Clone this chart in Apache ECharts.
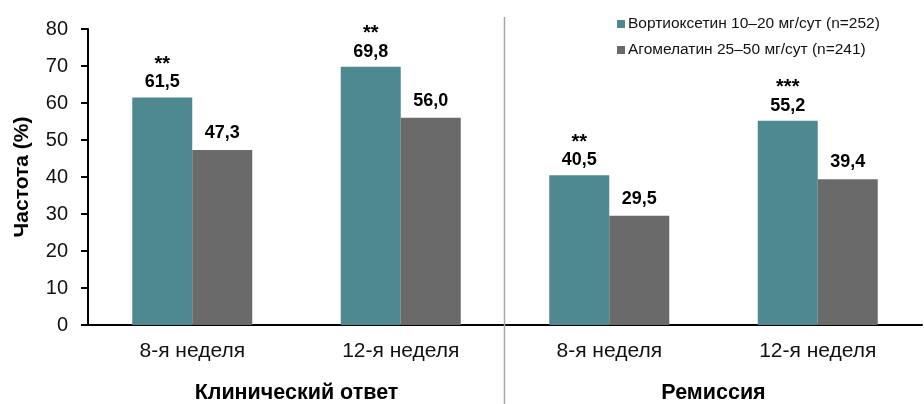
<!DOCTYPE html>
<html>
<head>
<meta charset="utf-8">
<script src="https://cdn.jsdelivr.net/npm/echarts@6/dist/echarts.min.js"></script>
<style>
  html, body { margin: 0; padding: 0; background: #fff; }
  #chart { width: 924px; height: 404px; }
</style>
</head>
<body>
<div id="chart"></div>
<script>
// Weeks within each outcome group
const categories = ['8-я неделя', '12-я неделя', '8-я неделя', '12-я неделя'];
const groups = ['Клинический ответ', 'Ремиссия'];

const seriesNames = ['Вортиоксетин 10–20 мг/сут (n=252)', 'Агомелатин 25–50 мг/сут (n=241)'];
const vortioxetine = [61.5, 69.8, 40.5, 55.2];
const agomelatine = [47.3, 56.0, 29.5, 39.4];
// Significance marks over the vortioxetine bars
const vortioxetineStars = ['**', '**', '**', '***'];

const yTicks = { min: 0, max: 80, interval: 10 };

const FONT = 'Liberation Sans, Arial, sans-serif';
const TEAL = '#4e8891';
const GREY = '#6a6a6a';

const fmt = v => v.toFixed(1).replace('.', ',');

const chart = echarts.init(document.getElementById('chart'));

chart.setOption({
  animation: false,
  textStyle: { fontFamily: FONT },
  grid: { left: 88, right: 2, top: 29, bottom: 79, containLabel: false },
  legend: {
    orient: 'vertical',
    left: 612,
    top: 10,
    itemWidth: 8,
    itemHeight: 8,
    itemGap: 8,
    icon: 'rect',
    textStyle: { fontFamily: FONT, fontSize: 15.5, color: '#111', lineHeight: 18, padding: [0, 0, 0, -2] },
    data: seriesNames
  },
  xAxis: [
    {
      type: 'category',
      data: categories,
      axisLine: { lineStyle: { color: '#000', width: 2 } },
      axisTick: { length: 6, lineStyle: { color: '#000', width: 2 } },
      axisLabel: { fontSize: 21, color: '#111', margin: 16 }
    },
    {
      type: 'category',
      data: groups,
      position: 'bottom',
      offset: 57,
      axisLine: { show: false },
      axisTick: { show: false },
      axisLabel: { fontSize: 21.5, fontWeight: 'bold', color: '#000', margin: 0 }
    }
  ],
  yAxis: {
    type: 'value',
    min: yTicks.min,
    max: yTicks.max,
    interval: yTicks.interval,
    name: 'Частота (%)',
    nameLocation: 'middle',
    nameGap: 55,
    nameTextStyle: { fontSize: 21, fontWeight: 'bold', color: '#000', fontFamily: FONT },
    axisLine: { show: true, lineStyle: { color: '#000', width: 2 } },
    axisTick: { show: true, length: 7, lineStyle: { color: '#000', width: 2 } },
    axisLabel: { fontSize: 20, color: '#111', margin: 20 },
    splitLine: { show: false }
  },
  series: [
    {
      name: seriesNames[0],
      type: 'bar',
      xAxisIndex: 0,
      barWidth: 60,
      barGap: '0%',
      itemStyle: { color: TEAL },
      data: vortioxetine.map((v, i) => ({
        value: v,
        label: {
          show: true,
          position: 'top',
          distance: 4,
          formatter: '{s|' + vortioxetineStars[i] + '}\n{v|' + fmt(v) + '}',
          rich: {
            s: { fontSize: 20, fontWeight: 'bold', color: '#000', lineHeight: 14, fontFamily: FONT },
            v: { fontSize: 18, fontWeight: 'bold', color: '#000', lineHeight: 22, fontFamily: FONT }
          }
        }
      }))
    },
    {
      name: seriesNames[1],
      type: 'bar',
      xAxisIndex: 0,
      barWidth: 60,
      barGap: '0%',
      itemStyle: { color: GREY },
      label: {
        show: true,
        position: 'top',
        distance: 8,
        fontSize: 18,
        fontWeight: 'bold',
        color: '#000',
        fontFamily: FONT,
        formatter: p => fmt(p.value)
      },
      data: agomelatine
    }
  ]
});

// Divider between the two outcome groups, placed on the category boundary
function drawDivider() {
  const a = chart.convertToPixel({ xAxisIndex: 0 }, categories.length / 2 - 1);
  const b = chart.convertToPixel({ xAxisIndex: 0 }, categories.length / 2);
  const x = Math.round((a + b) / 2) - 0.5;
  chart.setOption({
    graphic: [{
      type: 'line',
      z: 100,
      shape: { x1: x, y1: 17, x2: x, y2: 404 },
      style: { stroke: '#a6a6a6', lineWidth: 1.5 }
    }]
  });
}
drawDivider();
</script>
</body>
</html>
